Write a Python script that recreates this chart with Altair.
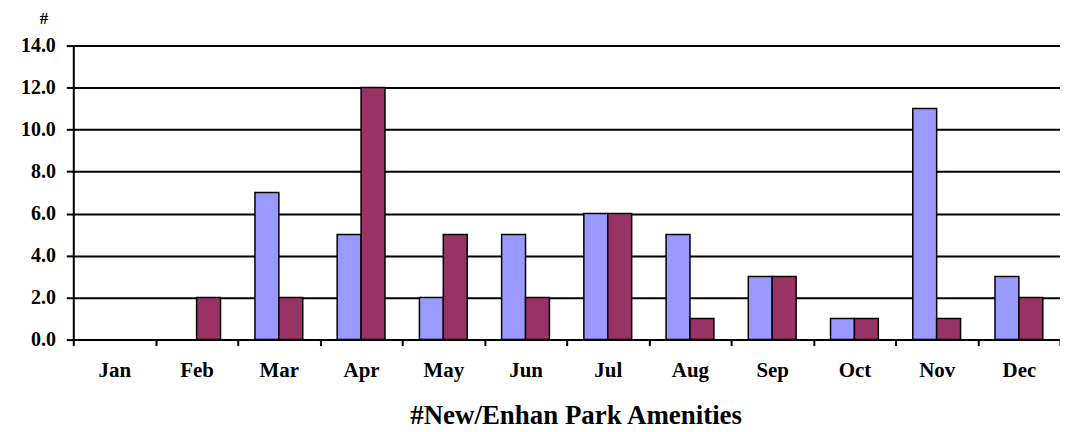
import altair as alt
import pandas as pd

months = ["Jan", "Feb", "Mar", "Apr", "May", "Jun", "Jul", "Aug", "Sep", "Oct", "Nov", "Dec"]
series_a = [0, 0, 7, 5, 2, 5, 6, 5, 3, 1, 11, 3]
series_b = [0, 2, 2, 12, 5, 2, 6, 1, 3, 1, 1, 2]
series_names = ["A", "B"]
colors = ["#9999FF", "#993366"]
y_ticks = [0, 2, 4, 6, 8, 10, 12, 14]

rows = []
for m, a, b in zip(months, series_a, series_b):
    rows.append({"month": m, "series": series_names[0], "value": a})
    rows.append({"month": m, "series": series_names[1], "value": b})
df = pd.DataFrame(rows)

FONT = "Liberation Serif"

chart = (
    alt.Chart(df)
    .mark_bar(stroke="black", strokeWidth=1.5)
    .encode(
        x=alt.X(
            "month:N",
            sort=months,
            scale=alt.Scale(domain=months, paddingInner=0, paddingOuter=0),
            axis=alt.Axis(
                title="#New/Enhan Park Amenities",
                titleFont=FONT,
                titleFontSize=27,
                titleFontWeight="bold",
                titleColor="black",
                titleX=504,
                titleY=84,
                titleAlign="center",
                titleBaseline="alphabetic",
                labelFont=FONT,
                labelFontSize=21,
                labelFontWeight="bold",
                labelColor="black",
                labelAngle=0,
                labelBaseline="alphabetic",
                labelPadding=31,
                tickSize=6,
                tickBand="extent",
                tickColor="black",
                tickWidth=2,
                domainColor="black",
                domainWidth=2,
                grid=False,
            ),
        ),
        xOffset=alt.XOffset(
            "series:N",
            sort=series_names,
            scale=alt.Scale(domain=series_names, paddingInner=0, paddingOuter=0.72),
        ),
        y=alt.Y(
            "value:Q",
            scale=alt.Scale(domain=[0, 14], nice=False),
            axis=alt.Axis(
                values=y_ticks,
                format=".1f",
                title="#",
                titleFont=FONT,
                titleFontSize=17,
                titleFontWeight="bold",
                titleColor="black",
                titleAngle=0,
                titleX=-30,
                titleY=-22,
                titleAlign="center",
                titleBaseline="alphabetic",
                labelFont=FONT,
                labelFontSize=20,
                labelFontWeight="bold",
                labelColor="black",
                labelPadding=11,
                tickSize=7,
                tickColor="black",
                tickWidth=2,
                domainColor="black",
                domainWidth=2,
                grid=True,
                gridColor="black",
                gridWidth=2,
                gridOpacity=1,
            ),
        ),
        color=alt.Color(
            "series:N",
            sort=series_names,
            scale=alt.Scale(domain=series_names, range=colors),
            legend=None,
        ),
    )
    .transform_filter("datum.value > 0")
    .properties(
        width=990,
        height=295,
        padding={"left": 65.5, "top": 37, "right": 0, "bottom": 92},
        autosize=alt.AutoSizeParams(type="none"),
        background="white",
    )
    .configure_view(stroke=None)
)

chart.save("out.html", embed_options={"renderer": "svg", "actions": False})
